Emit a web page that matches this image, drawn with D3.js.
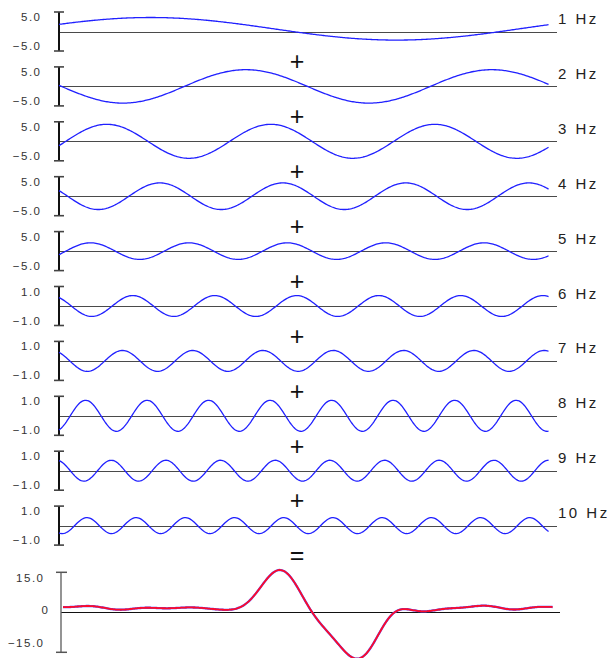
<!DOCTYPE html>
<html>
<head>
<meta charset="utf-8">
<script src="https://cdn.jsdelivr.net/npm/d3@7/dist/d3.min.js"></script>
<style>
  html, body { margin: 0; padding: 0; background: #fff; }
  svg { display: block; }
  text { font-family: "Liberation Sans", Arial, sans-serif; }
</style>
</head>
<body>
<svg id="chart" width="610" height="658"></svg>
<script>
// Harmonic components: frequency (Hz), amplitude, phase (degrees) and DC offset
const frequencies = [1, 2, 3, 4, 5, 6, 7, 8, 9, 10];
const amplitudes  = [3.92, 5.80, 5.90, 4.62, 2.88, 0.72, 0.72, 1.07, 0.72, 0.55];
const phasesDeg   = [23, 176.5, -15, 155, -25.3, 126, 125, -65.9, 106, -114.5];
const offsets     = [0.94, 0, 0, 0, 0, 0, 0, 0, 0, 0];

// Axis limits and labelled ticks for each row
const axisLimits  = [6.77, 6.77, 6.77, 6.77, 6.77, 1.345, 1.345, 1.345, 1.345, 1.345];
const rowTicks    = [[5, -5], [5, -5], [5, -5], [5, -5], [5, -5],
                     [1, -1], [1, -1], [1, -1], [1, -1], [1, -1]];
const sumLimit    = 18.4;
const sumTicks    = [15, 0, -15];

const svg = d3.select("#chart");
const fmt = d => d === 0 ? "0" : d3.format(".1f")(d);

// Row placement and shared time scale (one second across)
const rowZero = d3.scaleLinear().domain([1, 10]).range([31.5, 525.6]);
const half = 19.5;
const x = d3.scaleLinear().domain([0, 1]).range([59, 551]);
const xSum = d3.scaleLinear().domain([0, 1]).range([63, 555]);
const samples = d3.range(0, 0.9951, 0.0025);

const component = (i, t) =>
  offsets[i] + amplitudes[i] * Math.sin(2 * Math.PI * frequencies[i] * t + phasesDeg[i] * Math.PI / 180);
const total = t => d3.sum(frequencies, (f, i) => component(i, t));

frequencies.forEach((f, i) => {
  const z = rowZero(f);
  const y = d3.scaleLinear().domain([-axisLimits[i], axisLimits[i]]).range([z + half, z - half]);
  const g = svg.append("g");
  const axisX = x(0);

  // zero line
  const y0 = Math.round(y(0)) + 0.5;
  g.append("line").attr("x1", axisX).attr("x2", 557).attr("y1", y0).attr("y2", y0)
    .attr("stroke", "#4a4a4a").attr("stroke-width", 1);

  // vertical axis with end caps
  const yTop = y(axisLimits[i]), yBot = y(-axisLimits[i]);
  g.append("line").attr("x1", axisX).attr("x2", axisX).attr("y1", yTop).attr("y2", yBot)
    .attr("stroke", "#111").attr("stroke-width", 2);
  [yTop, yBot].forEach(yy => {
    g.append("line").attr("x1", axisX - 5).attr("x2", axisX + 5).attr("y1", yy).attr("y2", yy)
      .attr("stroke", "#444").attr("stroke-width", 1.6);
  });

  // tick labels
  g.selectAll("text.tick").data(rowTicks[i]).join("text")
    .attr("class", "tick")
    .attr("x", 41.5).attr("y", d => y(d)).attr("dy", "0.35em")
    .attr("text-anchor", "end")
    .attr("font-size", 11.5).attr("letter-spacing", 1.5).attr("fill", "#333")
    .text(fmt);

  // component wave
  const line = d3.line().x(t => x(t)).y(t => y(component(i, t)));
  g.append("path").datum(samples).attr("d", line)
    .attr("fill", "none").attr("stroke", "#2020ff").attr("stroke-width", 1.3);

  // frequency label
  g.append("text").attr("x", 558).attr("y", z - 7.5)
    .attr("font-size", 15).attr("letter-spacing", 2.5).attr("fill", "#222")
    .text(f + " Hz");

  // operator between rows
  const op = i < frequencies.length - 1 ? "+" : "=";
  g.append("text").attr("x", 297).attr("y", z + 30 + 0.35 * 25)
    .attr("text-anchor", "middle").attr("font-size", 25).attr("fill", "#111")
    .text(op);
});

// Sum of all components
{
  const z = 612.3, h = 40;
  const y = d3.scaleLinear().domain([-sumLimit, sumLimit]).range([z + h, z - h]);
  const g = svg.append("g");
  const axisX = 61;

  const y0 = Math.round(y(0)) + 0.5;
  g.append("line").attr("x1", axisX).attr("x2", 560).attr("y1", y0).attr("y2", y0)
    .attr("stroke", "#111").attr("stroke-width", 1);

  g.append("line").attr("x1", axisX).attr("x2", axisX).attr("y1", y(sumLimit)).attr("y2", y(-sumLimit))
    .attr("stroke", "#666").attr("stroke-width", 1.4);
  [y(sumLimit), y(-sumLimit)].forEach(yy => {
    g.append("line").attr("x1", axisX - 5).attr("x2", axisX + 6).attr("y1", yy).attr("y2", yy)
      .attr("stroke", "#555").attr("stroke-width", 1.5);
  });

  g.selectAll("text.tick").data(sumTicks).join("text")
    .attr("class", "tick")
    .attr("x", d => d === 0 ? 49.5 : 44.5).attr("y", d => y(d) - 2).attr("dy", "0.35em")
    .attr("text-anchor", "end")
    .attr("font-size", 11.5).attr("letter-spacing", 1.5).attr("fill", "#333")
    .text(fmt);

  // computed sum, drawn as a blue trace under a red one
  const line = d3.line().x(t => xSum(t)).y(t => y(total(t)));
  g.append("path").datum(samples).attr("d", line)
    .attr("fill", "none").attr("stroke", "#5050ff").attr("stroke-width", 2.3);
  g.append("path").datum(samples).attr("d", line)
    .attr("fill", "none").attr("stroke", "#ff0a28").attr("stroke-width", 1.8);
}
</script>
</body>
</html>
